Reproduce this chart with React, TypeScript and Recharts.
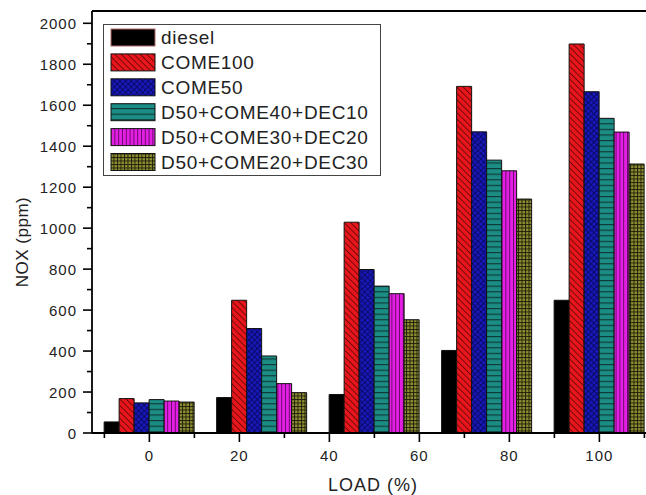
import React from "react";
import { BarChart, Bar, XAxis, YAxis, ReferenceLine } from "recharts";

// bar group positions on the load axis (Origin placed them every 25 units)
const loads = [0, 25, 50, 75, 100];
const diesel = [54, 173, 188, 403, 648];
const come100 = [168, 648, 1029, 1692, 1899];
const come50 = [147, 510, 798, 1470, 1666];
const d50come40 = [163, 376, 717, 1332, 1536];
const d50come30 = [156, 241, 680, 1280, 1469];
const d50come20 = [151, 197, 553, 1142, 1313];

const seriesNames = [
  "diesel",
  "COME100",
  "COME50",
  "D50+COME40+DEC10",
  "D50+COME30+DEC20",
  "D50+COME20+DEC30",
];
const seriesValues = [diesel, come100, come50, d50come40, d50come30, d50come20];
const seriesFills = [
  "#000000",
  "url(#pRed)",
  "url(#pBlue)",
  "url(#pTeal)",
  "url(#pMag)",
  "url(#pOlive)",
];

const xTicks = [-10, 0, 10, 20, 30, 40, 50, 60, 70, 80, 90, 100, 110];
const yTicks = [
  0, 100, 200, 300, 400, 500, 600, 700, 800, 900, 1000, 1100, 1200, 1300,
  1400, 1500, 1600, 1700, 1800, 1900, 2000,
];
const Y_MAX = 2060;

const FONT = "'Liberation Sans', Arial, sans-serif";
const TXT = "#222";

const data = loads.map((load, i) => {
  const row: Record<string, number> = { load };
  seriesNames.forEach((n, k) => (row[n] = seriesValues[k][i]));
  return row;
});

function Patterns() {
  return (
    <svg width={0} height={0} style={{ position: "absolute" }}>
      <defs>
        <pattern id="pRed" width={4.5} height={4.5} patternUnits="userSpaceOnUse" patternTransform="rotate(-45)">
          <rect width={4.5} height={4.5} fill="#e8161c" />
          <line x1={0.5} y1={0} x2={0.5} y2={4.5} stroke="#6a0808" strokeWidth={0.9} />
        </pattern>
        <pattern id="pBlue" width={4} height={4} patternUnits="userSpaceOnUse" patternTransform="rotate(45)">
          <rect width={4} height={4} fill="#1818b8" />
          <line x1={0.5} y1={0} x2={0.5} y2={4} stroke="#08085a" strokeWidth={0.8} />
          <line x1={0} y1={0.5} x2={4} y2={0.5} stroke="#08085a" strokeWidth={0.8} />
        </pattern>
        <pattern id="pTeal" width={6} height={5.6} patternUnits="userSpaceOnUse">
          <rect width={6} height={5.6} fill="#1b8d85" />
          <line x1={0} y1={0.6} x2={6} y2={0.6} stroke="#0d3532" strokeWidth={1.1} />
        </pattern>
        <pattern id="pMag" width={3.8} height={6} patternUnits="userSpaceOnUse">
          <rect width={3.8} height={6} fill="#e41ee4" />
          <line x1={0.5} y1={0} x2={0.5} y2={6} stroke="#5a0a5a" strokeWidth={0.9} />
        </pattern>
        <pattern id="pOlive" width={3.5} height={3.5} patternUnits="userSpaceOnUse">
          <rect width={3.5} height={3.5} fill="#8e8e32" />
          <line x1={0.5} y1={0} x2={0.5} y2={3.5} stroke="#1a1a08" strokeWidth={0.9} />
          <line x1={0} y1={0.5} x2={3.5} y2={0.5} stroke="#1a1a08" strokeWidth={0.9} />
        </pattern>
      </defs>
    </svg>
  );
}

function XTick(props: any) {
  const { x, y, payload } = props;
  const major = payload.value % 20 === 0;
  return (
    <g>
      <line x1={x} x2={x} y1={y} y2={y + (major ? 9 : 5)} stroke="#000" strokeWidth={1.6} />
      {major && (
        <text x={x} y={y + 28} textAnchor="middle" fontSize={15} letterSpacing={1} fill={TXT} fontFamily={FONT}>
          {payload.value}
        </text>
      )}
    </g>
  );
}

function YTick(props: any) {
  const { x, y, payload } = props;
  const major = payload.value % 200 === 0;
  return (
    <g>
      <line x1={x} x2={x - (major ? 9 : 5)} y1={y} y2={y} stroke="#000" strokeWidth={1.6} />
      {major && (
        <text x={x - 15} y={y + 5.5} textAnchor="end" fontSize={15} letterSpacing={1} fill={TXT} fontFamily={FONT}>
          {payload.value}
        </text>
      )}
    </g>
  );
}

function LegendBox() {
  return (
    <svg
      width={279}
      height={153}
      style={{ position: "absolute", left: 103, top: 24 }}
    >
      <rect x={0.5} y={0.5} width={277} height={151} fill="#fff" stroke="#444" strokeWidth={1} />
      {seriesNames.map((n, i) => (
        <g key={n}>
          <rect
            x={8}
            y={5 + i * 24.9}
            width={44}
            height={17}
            fill={seriesFills[i]}
            stroke={i === 0 ? "#b06a6a" : "#111"}
            strokeWidth={1}
          />
          <text x={58} y={20 + i * 24.9} fontSize={19} letterSpacing={0.7} fill={TXT} fontFamily={FONT}>
            {n}
          </text>
        </g>
      ))}
    </svg>
  );
}

function AxisTitles() {
  return (
    <svg width={646} height={495} style={{ position: "absolute", left: 0, top: 0, pointerEvents: "none" }}>
      <text x={373} y={491} textAnchor="middle" fontSize={18} letterSpacing={1} fill={TXT} fontFamily={FONT}>
        LOAD (%)
      </text>
      <text
        x={22}
        y={242}
        transform="rotate(-90, 22, 242)"
        textAnchor="middle"
        dominantBaseline="central"
        fontSize={17}
        letterSpacing={0.5}
        fill={TXT}
        fontFamily={FONT}
      >
        NOX (ppm)
      </text>
    </svg>
  );
}

export default function App() {
  return (
    <div
      style={{
        position: "absolute",
        left: 0,
        top: 0,
        width: 646,
        height: 495,
        overflow: "hidden",
        background: "#fff",
      }}
    >
      <Patterns />
      <BarChart
        width={700}
        height={495}
        data={data}
        margin={{ top: 11, right: 45.5, bottom: 0, left: 0 }}
        barGap={0}
        barSize={15}
      >
        <XAxis
          type="number"
          dataKey="load"
          domain={[-12.75, 112.25]}
          ticks={xTicks}
          interval={0}
          allowDataOverflow
          height={62}
          tickSize={0}
          tickMargin={0}
          tickLine={false}
          tick={<XTick />}
          axisLine={{ stroke: "#000", strokeWidth: 1.8 }}
        />
        <YAxis
          type="number"
          domain={[0, Y_MAX]}
          ticks={yTicks}
          interval={0}
          allowDataOverflow
          width={92}
          tickSize={0}
          tickMargin={0}
          tickLine={false}
          tick={<YTick />}
          axisLine={{ stroke: "#000", strokeWidth: 1.8 }}
        />
        <ReferenceLine y={Y_MAX} stroke="#000" strokeWidth={1.8} />
        {seriesNames.map((n, i) => (
          <Bar
            key={n}
            dataKey={n}
            fill={seriesFills[i]}
            stroke="#111"
            strokeWidth={1}
            isAnimationActive={false}
          />
        ))}
      </BarChart>
      <LegendBox />
      <AxisTitles />
    </div>
  );
}
